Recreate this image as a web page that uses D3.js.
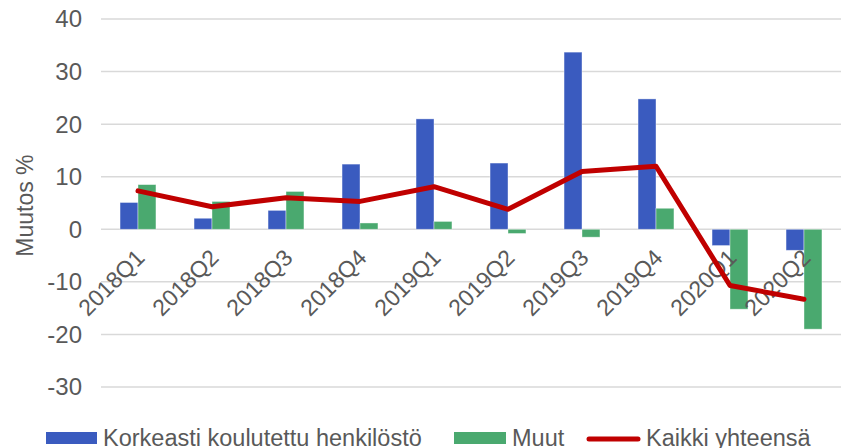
<!DOCTYPE html>
<html>
<head>
<meta charset="utf-8">
<script src="https://cdn.jsdelivr.net/npm/d3@7"></script>
<style>
  body { margin: 0; background: #fff; }
  svg { display: block; font-family: "Liberation Sans", Arial, sans-serif; }
</style>
</head>
<body>
<div id="chart"></div>
<script>
// Quarterly change in percent
const quarters = ['2018Q1', '2018Q2', '2018Q3', '2018Q4', '2019Q1', '2019Q2', '2019Q3', '2019Q4', '2020Q1', '2020Q2'];
const highlyEducated = [5.1, 2.1, 3.6, 12.4, 21.0, 12.6, 33.7, 24.8, -3.1, -4.0];
const others = [8.5, 5.3, 7.2, 1.2, 1.5, -0.8, -1.5, 4.0, -15.2, -19.0];
const total = [7.3, 4.3, 6.0, 5.3, 8.1, 3.8, 11.0, 12.0, -10.7, -13.3];
const yTicks = [-30, -20, -10, 0, 10, 20, 30, 40];
const seriesNames = ['Korkeasti koulutettu henkilöstö', 'Muut', 'Kaikki yhteensä'];

const width = 844, height = 448;
const margin = { top: 19, right: 3, bottom: 61, left: 101 };
const colors = { blue: '#3A5BBF', green: '#4AA96F', red: '#C00000', grid: '#D9D9D9', text: '#595959' };

const svg = d3.select('#chart').append('svg')
    .attr('width', width)
    .attr('height', height);

const x = d3.scaleBand()
    .domain(quarters)
    .range([margin.left, width - margin.right]);

const y = d3.scaleLinear()
    .domain([-30, 40])
    .range([height - margin.bottom, margin.top]);

// two bars per quarter, ~18px each, centred in the band
const inner = d3.scaleBand()
    .domain([0, 1])
    .range([0, x.bandwidth()])
    .paddingInner(0)
    .paddingOuter(1.06);

// Gridlines + y labels
svg.append('g')
    .selectAll('line')
    .data(yTicks)
    .join('line')
    .attr('x1', margin.left)
    .attr('x2', width - margin.right)
    .attr('y1', d => y(d))
    .attr('y2', d => y(d))
    .attr('stroke', colors.grid)
    .attr('stroke-width', 1.5);

svg.append('g')
    .selectAll('text')
    .data(yTicks)
    .join('text')
    .attr('x', 82)
    .attr('y', d => y(d))
    .attr('dy', '0.35em')
    .attr('text-anchor', 'end')
    .attr('fill', colors.text)
    .style('font-size', '24px')
    .text(d => d);

svg.append('text')
    .attr('transform', `translate(33,${y(4.5)}) rotate(-90)`)
    .attr('text-anchor', 'middle')
    .attr('fill', colors.text)
    .style('font-size', '23px')
    .text('Muutos %');

// Bars
const groups = [highlyEducated, others];
const barColors = [colors.blue, colors.green];
groups.forEach((vals, gi) => {
    svg.append('g')
        .selectAll('rect')
        .data(vals)
        .join('rect')
        .attr('x', (d, i) => x(quarters[i]) + inner(gi))
        .attr('width', inner.bandwidth())
        .attr('y', d => y(Math.max(0, d)))
        .attr('height', d => Math.abs(y(d) - y(0)))
        .attr('fill', barColors[gi])
        .attr('stroke', '#fff')
        .attr('stroke-opacity', 0.5)
        .attr('stroke-width', 0.8);
});

// X labels rotated
svg.append('g')
    .selectAll('text')
    .data(quarters)
    .join('text')
    .attr('transform', d => `translate(${x(d) + x.bandwidth() / 2 + 8},${y(0) + 30}) rotate(-45)`)
    .attr('text-anchor', 'end')
    .attr('fill', colors.text)
    .style('font-size', '23px')
    .text(d => d);

// Total line
const line = d3.line()
    .x((d, i) => x(quarters[i]) + x.bandwidth() / 2)
    .y(d => y(d));

svg.append('path')
    .datum(total)
    .attr('d', line)
    .attr('fill', 'none')
    .attr('stroke', colors.red)
    .attr('stroke-width', 5)
    .attr('stroke-linejoin', 'round')
    .attr('stroke-linecap', 'round');

// Legend
const legend = svg.append('g').attr('transform', 'translate(0,438)');
const legendItems = [
    { name: seriesNames[0], x: 46, w: 51, type: 'rect', color: colors.blue },
    { name: seriesNames[1], x: 454, w: 52, type: 'rect', color: colors.green },
    { name: seriesNames[2], x: 587, w: 53, type: 'line', color: colors.red }
];
legendItems.forEach(it => {
    if (it.type === 'rect') {
        legend.append('rect')
            .attr('x', it.x).attr('y', -6)
            .attr('width', it.w).attr('height', 12)
            .attr('fill', it.color);
    } else {
        legend.append('line')
            .attr('x1', it.x + 2).attr('x2', it.x + it.w - 2)
            .attr('y1', 1).attr('y2', 1)
            .attr('stroke', it.color)
            .attr('stroke-width', 5)
            .attr('stroke-linecap', 'round');
    }
    legend.append('text')
        .attr('x', it.x + it.w + 6)
        .attr('y', 0)
        .attr('dy', '0.35em')
        .attr('fill', colors.text)
        .style('font-size', '23.5px')
        .text(it.name);
});
</script>
</body>
</html>
